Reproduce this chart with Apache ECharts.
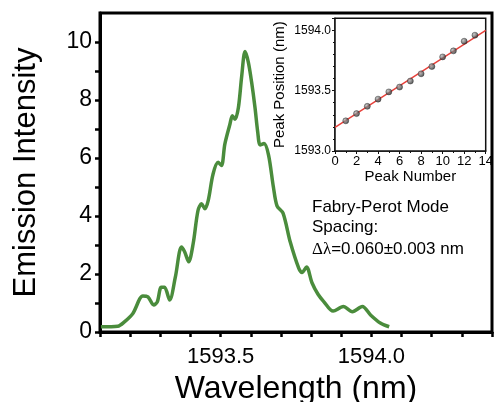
<!DOCTYPE html>
<html>
<head>
<meta charset="utf-8">
<script src="https://cdn.jsdelivr.net/npm/echarts@6/dist/echarts.min.js"></script>
<style>
html,body{margin:0;padding:0;background:#fff;}
#c{width:494px;height:402px;}
</style>
</head>
<body>
<div id="c"></div>
<script>
// Main spectrum
var wavelength = [1593.103,1593.159,1593.181,1593.209,1593.242,1593.259,1593.278,1593.290,1593.303,1593.314,1593.331,1593.350,1593.370,1593.381,1593.394,1593.409,1593.425,1593.437,1593.448,1593.459,1593.475,1593.492,1593.503,1593.514,1593.531,1593.539,1593.548,1593.559,1593.570,1593.581,1593.592,1593.603,1593.614,1593.623,1593.631,1593.644,1593.659,1593.675,1593.687,1593.707,1593.731,1593.759,1593.770,1593.785,1593.803,1593.823,1593.842,1593.873,1593.907,1593.937,1593.970,1593.998,1594.031,1594.059];
var intensity = [0.18,0.20,0.35,0.64,1.24,1.21,0.93,1.04,1.54,1.54,1.10,1.90,2.93,2.76,2.42,3.05,4.19,4.42,4.25,4.54,5.45,5.85,5.74,6.48,7.17,7.46,7.34,7.74,8.83,9.67,9.30,8.60,7.74,6.90,6.45,6.50,6.10,5.00,4.35,4.10,3.10,2.20,2.05,2.24,1.70,1.30,1.05,0.72,0.88,0.70,0.88,0.58,0.30,0.18];
// Inset: peak positions
var peakNumber = [1,2,3,4,5,6,7,8,9,10,11,12,13];
var peakPosition = [1593.25,1593.31,1593.37,1593.43,1593.49,1593.53,1593.58,1593.64,1593.70,1593.78,1593.83,1593.91,1593.96];
var fitX = [0,14];
var fitY = [1593.195,1594.0];
var xLabelsShown = [1593.5,1594.0];

var FONT = "'Liberation Sans', Arial, sans-serif";
function zip(a,b){return a.map(function(v,i){return [v,b[i]];});}

var chart = echarts.init(document.getElementById('c'), null, {renderer:'canvas'});
chart.setOption({
  animation:false,
  backgroundColor:'#fff',
  grid:[
    {left:100,right:2,top:13,bottom:70,show:true,borderColor:'#000',borderWidth:3,backgroundColor:'transparent',containLabel:false,outerBoundsMode:'none'},
    {left:335,right:8.3,top:18.3,bottom:251,show:true,borderColor:'#111',borderWidth:1.5,backgroundColor:'#fff',containLabel:false,outerBoundsMode:'none',z:5}
  ],
  xAxis:[
    {gridIndex:0,type:'value',min:1593.1,max:1594.4,interval:0.1,
     name:'Wavelength (nm)',nameLocation:'middle',nameGap:40,
     nameTextStyle:{fontFamily:FONT,fontSize:32,color:'#000'},
     axisLine:{show:true,onZero:false,lineStyle:{color:'#000',width:3}},
     axisTick:{show:true,inside:false,length:5,lineStyle:{color:'#000',width:2.5}},
     splitLine:{show:false},
     axisLabel:{fontFamily:FONT,fontSize:22,color:'#000',margin:14,
       formatter:function(v){for(var i=0;i<xLabelsShown.length;i++){if(Math.abs(v-xLabelsShown[i])<1e-6)return xLabelsShown[i].toFixed(1);}return '';}}
    },
    {gridIndex:1,type:'value',min:0,max:14,interval:2,
     name:'Peak Number',nameLocation:'middle',nameGap:18,
     nameTextStyle:{fontFamily:FONT,fontSize:15,color:'#000'},
     axisLine:{show:true,onZero:false,lineStyle:{color:'#111',width:1.5}},
     axisTick:{show:true,inside:false,length:3,lineStyle:{color:'#111',width:1}},
     minorTick:{show:true,splitNumber:2,length:2,lineStyle:{color:'#111',width:1}},
     splitLine:{show:false},
     axisLabel:{fontFamily:FONT,fontSize:13,color:'#000',margin:4}
    }
  ],
  yAxis:[
    {gridIndex:0,type:'value',min:0,max:11,interval:1,
     name:'Emission Intensity',nameLocation:'middle',nameGap:58,
     nameTextStyle:{fontFamily:FONT,fontSize:31,color:'#000'},
     axisLine:{show:true,onZero:false,lineStyle:{color:'#000',width:3}},
     axisTick:{show:true,inside:false,length:5,lineStyle:{color:'#000',width:2.5}},
     splitLine:{show:false},
     axisLabel:{fontFamily:FONT,fontSize:23,color:'#000',margin:8,showMaxLabel:false,
       formatter:function(v){return (Math.round(v)%2===0)?String(Math.round(v)):'';}}
    },
    {gridIndex:1,type:'value',min:1593.0,max:1594.1,interval:0.5,
     name:'Peak Position (nm)',nameLocation:'middle',nameGap:48,
     nameTextStyle:{fontFamily:FONT,fontSize:15,color:'#000'},
     axisLine:{show:true,onZero:false,lineStyle:{color:'#111',width:1.5}},
     axisTick:{show:true,inside:false,length:3,lineStyle:{color:'#111',width:1}},
     minorTick:{show:true,splitNumber:5,length:2,lineStyle:{color:'#111',width:1}},
     splitLine:{show:false},
     axisLabel:{fontFamily:FONT,fontSize:12,color:'#000',margin:4,showMaxLabel:false,
       formatter:function(v){return v.toFixed(1);}}
    }
  ],
  series:[
    {type:'line',xAxisIndex:0,yAxisIndex:0,data:zip(wavelength,intensity),
     smooth:0.3,showSymbol:false,lineStyle:{color:'#4a8c3c',width:3.5},z:3},
    {type:'line',xAxisIndex:1,yAxisIndex:1,data:zip(fitX,fitY),
     showSymbol:false,lineStyle:{color:'#e8403a',width:1.5},z:6},
    {type:'scatter',xAxisIndex:1,yAxisIndex:1,data:zip(peakNumber,peakPosition),
     symbol:'circle',symbolSize:6,
     itemStyle:{color:new echarts.graphic.RadialGradient(0.35,0.35,0.7,[{offset:0,color:'#bbb'},{offset:1,color:'#222'}]),borderColor:'#222',borderWidth:0.5},z:7}
  ],
  graphic:[
    {type:'text',left:312,top:199,z:10,style:{text:'Fabry-Perot Mode',font:'17px '+FONT,fill:'#000'}},
    {type:'text',left:312,top:219,z:10,style:{text:'Spacing:',font:'17px '+FONT,fill:'#000'}},
    {type:'text',left:312,top:241,z:10,style:{
      text:'{g|Δλ}=0.060±0.003 nm',font:'17px '+FONT,fill:'#000',
      rich:{g:{fontFamily:"'Liberation Serif', 'Times New Roman', serif",fontSize:17,fill:'#000'}}}}
  ]
});
</script>
</body>
</html>
